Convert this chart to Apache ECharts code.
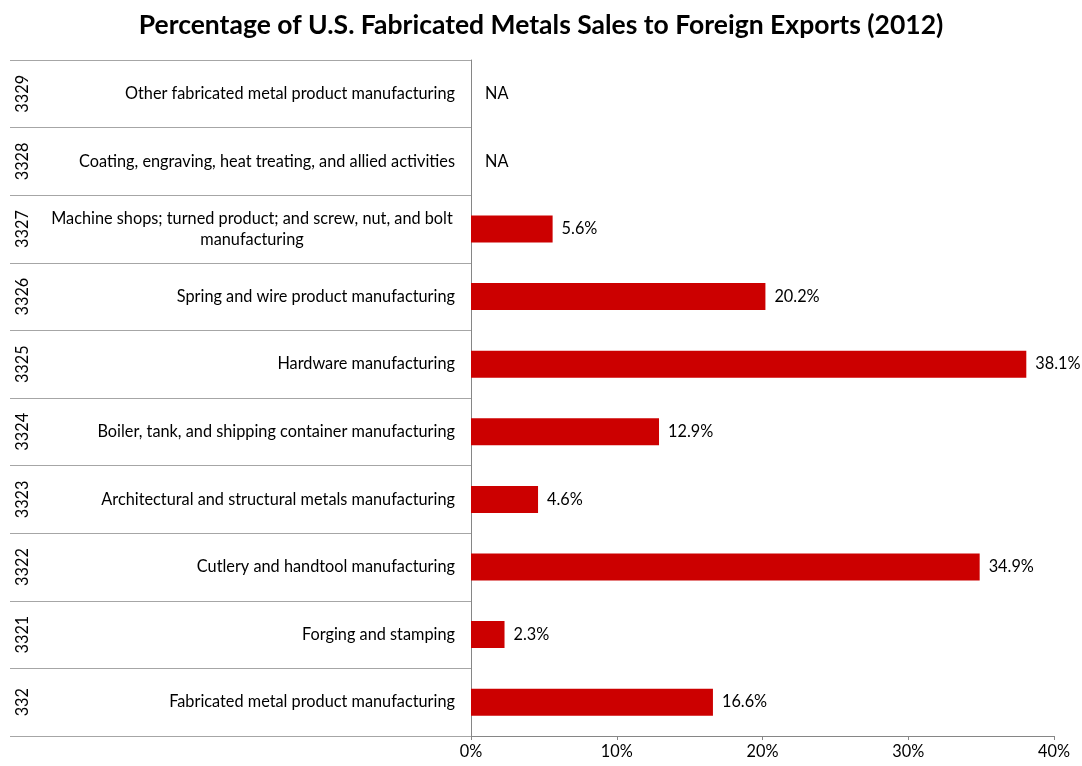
<!DOCTYPE html>
<html>
<head>
<meta charset="utf-8">
<script src="https://cdn.jsdelivr.net/npm/echarts@6/dist/echarts.min.js"></script>
<style>
  html, body { margin: 0; padding: 0; background: #fff; }
  #chart { width: 1082px; height: 766px; }
</style>
</head>
<body>
<div id="chart"></div>
<script>
// NAICS codes, listed bottom to top
const codes = ['332', '3321', '3322', '3323', '3324', '3325', '3326', '3327', '3328', '3329'];
const industries = [
  'Fabricated metal product manufacturing',
  'Forging and stamping',
  'Cutlery and handtool manufacturing',
  'Architectural and structural metals manufacturing',
  'Boiler, tank, and shipping container manufacturing',
  'Hardware manufacturing',
  'Spring and wire product manufacturing',
  'Machine shops; turned product; and screw, nut, and bolt\nmanufacturing',
  'Coating, engraving, heat treating, and allied activities',
  'Other fabricated metal product manufacturing'
];
// Export share of sales, percent (null = not available)
const exportShare = [16.6, 2.3, 34.9, 4.6, 12.9, 38.1, 20.2, 5.6, null, null];
const xTicks = [0, 10, 20, 30, 40];

const FONT = 'Lato, "Open Sans", sans-serif';
const FS = 16.3;
const GRID_LINE = '#A6A6A6';
const AXIS_LINE = '#868686';

const chart = echarts.init(document.getElementById('chart'));

const barData = exportShare.map(v => v === null
  ? { value: 0, itemStyle: { color: 'transparent' }, label: { formatter: 'NA', distance: 14 } }
  : { value: v });

chart.setOption({
  animation: false,
  title: {
    text: 'Percentage of U.S. Fabricated Metals Sales to Foreign Exports (2012)',
    left: 'center',
    top: 7,
    textStyle: { fontFamily: FONT, fontSize: 26.5, fontWeight: 'bold', color: '#000' }
  },
  grid: { left: 471, right: 28, top: 60, bottom: 30 },
  xAxis: {
    type: 'value',
    min: xTicks[0],
    max: xTicks[xTicks.length - 1],
    interval: 10,
    splitLine: { show: false },
    axisLine: { show: true, lineStyle: { color: AXIS_LINE, width: 1 } },
    axisTick: { show: true, length: 4, lineStyle: { color: AXIS_LINE } },
    axisLabel: {
      formatter: v => v + '%',
      fontFamily: FONT, fontSize: FS, color: '#000', margin: 8
    }
  },
  yAxis: [
    {
      type: 'category',
      data: industries,
      position: 'left',
      axisLine: { show: true, lineStyle: { color: AXIS_LINE, width: 1 } },
      axisTick: { show: true, length: 461, lineStyle: { color: GRID_LINE, width: 1 } },
      axisLabel: {
        margin: 16,
        fontFamily: FONT, fontSize: FS, color: '#000', lineHeight: 21,
        formatter: v => v.indexOf('\n') >= 0
          ? v.split('\n').map(s => '{c|' + s + '}').join('\n')
          : v,
        rich: { c: { width: 406, align: 'center', fontFamily: FONT, fontSize: FS, color: '#000', lineHeight: 21 } }
      }
    },
    {
      type: 'category',
      data: codes,
      position: 'left',
      axisLine: { show: false },
      axisTick: { show: false },
      axisLabel: {
        rotate: 90,
        margin: 440,
        fontFamily: FONT, fontSize: FS, color: '#000'
      }
    }
  ],
  series: [{
    type: 'bar',
    yAxisIndex: 0,
    data: barData,
    barWidth: 27,
    itemStyle: { color: '#CC0000' },
    label: {
      show: true,
      position: 'right',
      distance: 9,
      formatter: p => p.value.toFixed(1) + '%',
      fontFamily: FONT, fontSize: FS, color: '#000'
    }
  }]
});
</script>
</body>
</html>
